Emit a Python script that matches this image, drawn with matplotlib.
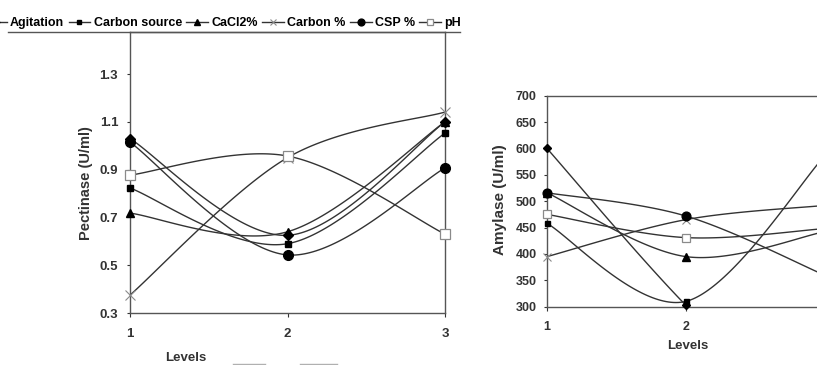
import numpy as np
import matplotlib
matplotlib.use('Agg')
import matplotlib.pyplot as plt
from matplotlib.lines import Line2D
from matplotlib.patches import Rectangle

plt.rcParams['font.family'] = ['Liberation Sans', 'DejaVu Sans']
plt.rcParams['font.weight'] = 'bold'
plt.rcParams['axes.labelweight'] = 'bold'

# data
levels = [1, 2, 3]
series_names = ['Agitation', 'Carbon source', 'CaCl2%', 'Carbon %', 'CSP %', 'pH']

pect_agitation = [1.03, 0.625, 1.10]
pect_carbon_source = [0.823, 0.59, 1.053]
pect_cacl2 = [0.718, 0.64, 1.10]
pect_carbon_pct = [0.375, 0.95, 1.141]
pect_csp = [1.015, 0.543, 0.907]
pect_ph = [0.877, 0.957, 0.63]

# agitation drops below the axis floor at level 3 (line runs out of the plot)
amy_agitation = [600, 303, 60]
amy_carbon_source = [458, 310, 585]
amy_cacl2 = [516, 395, 442]
amy_carbon_pct = [395, 465, 492]
amy_csp = [516, 472, 360]
amy_ph = [475, 431, 448]

pect_ticks = [0.3, 0.5, 0.7, 0.9, 1.1, 1.3]
amy_ticks = [300, 350, 400, 450, 500, 550, 600, 650, 700]
level_labels = ['1', '2', '3']

LINE = '#333333'
GREY = '#8a8a8a'
TXT = '#333333'

# marker style per series (same order as series_names)
styles = [
    dict(marker='D', ms=5, mfc='black', mec='black'),
    dict(marker='s', ms=4, mfc='black', mec='black'),
    dict(marker='^', ms=6, mfc='black', mec='black'),
    dict(marker='x', ms=7, mfc=GREY, mec=GREY, mew=0.8),
    dict(marker='o', ms=7, mfc='black', mec='black'),
    dict(marker='s', ms=7, mfc='white', mec=GREY, mew=0.9),
]


def excel_smooth(x, y, n=60):
    """bezier smoothing like excel's smoothed line"""
    pts = np.column_stack([x, y]).astype(float)
    ext = np.vstack([pts[0], pts, pts[-1]])
    out = []
    t = np.linspace(0, 1, n)[:, None]
    for i in range(len(pts) - 1):
        p0, p1, p2, p3 = ext[i], ext[i + 1], ext[i + 2], ext[i + 3]
        c1 = p1 + (p2 - p0) / 6
        c2 = p2 - (p3 - p1) / 6
        seg = (1 - t) ** 3 * p1 + 3 * (1 - t) ** 2 * t * c1 + 3 * (1 - t) * t ** 2 * c2 + t ** 3 * p2
        out.append(seg)
    out = np.vstack(out)
    return out[:, 0], out[:, 1]


def draw_panel(ax, series, scale=1.0):
    for vals, st in zip(series, styles):
        sx, sy = excel_smooth(levels, vals)
        ax.plot(sx, sy, color=LINE, lw=1.0, zorder=2)
        st = dict(st)
        st['ms'] = st['ms'] * scale
        ax.plot(levels, vals, ls='none', zorder=3, clip_on=False, **st)
    ax.set_xlim(1, 3)
    ax.set_xticks(levels)
    for s in ax.spines.values():
        s.set_color('#555555')
        s.set_linewidth(1.0)


W, H = 817, 365
fig = plt.figure(figsize=(W / 100, H / 100), dpi=100)

# left panel: pectinase
ax1 = fig.add_axes([130 / W, 1 - 313 / H, 315 / W, 281 / H])
draw_panel(ax1, [pect_agitation, pect_carbon_source, pect_cacl2,
                 pect_carbon_pct, pect_csp, pect_ph])
ax1.set_ylim(0.3, 1.476)
ax1.set_yticks(pect_ticks)
ax1.set_yticklabels([f'{v:.1f}' for v in pect_ticks], fontweight='bold')
ax1.set_xticklabels(level_labels, fontweight='bold')
ax1.tick_params(axis='y', length=2.5, width=0.8, pad=6, labelsize=9.5, colors=TXT)
ax1.tick_params(axis='x', length=3, width=0.8, pad=8, labelsize=9.5, colors=TXT)
ax1.set_ylabel('Pectinase (U/ml)', fontsize=10.5, color=TXT, fontweight='bold')
ax1.yaxis.label.set_va('center')
ax1.yaxis.set_label_coords(-0.14, 0.464)
ax1.set_xlabel('Levels', fontsize=9.5, color=TXT, fontweight='bold')
ax1.xaxis.label.set_va('center')
ax1.xaxis.set_label_coords((186 - 130) / 315, (313 - 358) / 281)

# right panel: amylase (cut off at the right edge like the source)
ax2 = fig.add_axes([547 / W, 1 - 306.7 / H, 277.4 / W, 211 / H])
draw_panel(ax2, [amy_agitation, amy_carbon_source, amy_cacl2,
                 amy_carbon_pct, amy_csp, amy_ph], scale=0.9)
ax2.set_ylim(300, 700)
ax2.set_yticks(amy_ticks)
ax2.set_yticklabels([str(v) for v in amy_ticks], fontweight='bold')
# level 3 label sits past the picture edge in the source
ax2.set_xticklabels(level_labels[:2] + [''], fontweight='bold')
ax2.tick_params(axis='y', length=2.5, width=0.8, pad=5, labelsize=9, colors=TXT)
ax2.tick_params(axis='x', length=3, width=0.8, pad=7, labelsize=9, colors=TXT)
ax2.set_ylabel('Amylase (U/ml)', fontsize=11, color=TXT, fontweight='bold')
ax2.yaxis.label.set_va('center')
ax2.yaxis.set_label_coords((500 - 547) / 277.4, (306.7 - 200) / 211)
ax2.set_xlabel('Levels', fontsize=9.5, color=TXT, fontweight='bold')
ax2.xaxis.label.set_va('center')
ax2.xaxis.set_label_coords((688 - 547) / 277.4, (306.7 - 346) / 211)

# legend strip at the top (first marker falls off the left edge)
handles = []
for st in styles:
    handles.append(Line2D([], [], color=LINE, lw=1.0, **st))
fig.legend(handles, series_names, loc='lower left',
           bbox_to_anchor=(-15 / W, 1 - 29 / H), ncol=6, frameon=False,
           handlelength=1.75, handletextpad=0.25, columnspacing=0.35,
           markerscale=0.7, borderpad=0, borderaxespad=0,
           prop=dict(family='Liberation Sans', weight='bold', size=9))

fig.add_artist(Line2D([8 / W, 460 / W], [1 - 32 / H] * 2, transform=fig.transFigure,
                      color='#555555', lw=1.0))

# crop edge of the right picture and stray marks at the bottom
fig.add_artist(Rectangle((500 / W, 0), 317 / W, (H - 349) / H, transform=fig.transFigure,
                         facecolor='white', edgecolor='none', zorder=10))
for x0, x1 in [(233, 265), (300, 337)]:
    fig.add_artist(Line2D([x0 / W, x1 / W], [1 - 363.5 / H] * 2, transform=fig.transFigure,
                          color='#b0b0b0', lw=1.0))

fig.savefig('out.png', dpi=100)
